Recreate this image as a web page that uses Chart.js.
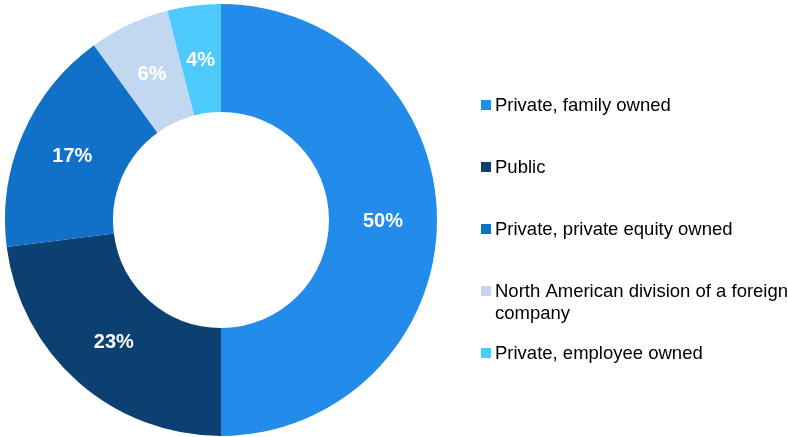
<!DOCTYPE html>
<html>
<head>
<meta charset="utf-8">
<script src="https://cdn.jsdelivr.net/npm/chart.js@4"></script>
<style>
  html, body { margin: 0; padding: 0; background: #fff; overflow: hidden; }
  #wrap { width: 788px; height: 437px; position: relative; }
</style>
</head>
<body>
<div id="wrap"><canvas id="owner"></canvas></div>
<script>
const categories = [
  "Private, family owned",
  "Public",
  "Private, private equity owned",
  "North American division of a foreign company",
  "Private, employee owned"
];
const shares = [50, 23, 17, 6, 4];
const sliceColors = ["#238bea", "#0b4070", "#1170c8", "#c2d8f0", "#4ec9fb"];

// white percentage text in the middle of each ring segment
const sliceLabels = {
  id: "sliceLabels",
  afterDatasetsDraw(chart) {
    const ctx = chart.ctx;
    const meta = chart.getDatasetMeta(0);
    ctx.save();
    ctx.font = "bold 20px 'Liberation Sans', Arial, sans-serif";
    ctx.fillStyle = "#fff";
    ctx.textAlign = "center";
    ctx.textBaseline = "middle";
    meta.data.forEach((arc, i) => {
      const p = arc.tooltipPosition();
      ctx.fillText(shares[i] + "%", p.x, p.y + 1);
    });
    ctx.restore();
  }
};

// legend on the right, long names wrapped onto a second line
const sideLegend = {
  id: "sideLegend",
  afterDraw(chart) {
    const ctx = chart.ctx;
    const x0 = 481, y0 = 105, step = 62, maxW = 320, lineH = 22;
    ctx.save();
    ctx.font = "18.5px 'Liberation Sans', Arial, sans-serif";
    ctx.textBaseline = "middle";
    ctx.textAlign = "left";
    categories.forEach((name, i) => {
      const y = y0 + i * step;
      ctx.fillStyle = sliceColors[i];
      ctx.fillRect(x0, y - 5, 10, 10);
      ctx.fillStyle = "#000";
      let line = "", ly = y + 1;
      name.split(" ").forEach(w => {
        const test = line ? line + " " + w : w;
        if (line && ctx.measureText(test).width > maxW) {
          ctx.fillText(line, x0 + 14, ly);
          line = w;
          ly += lineH;
        } else {
          line = test;
        }
      });
      ctx.fillText(line, x0 + 14, ly);
    });
    ctx.restore();
  }
};

new Chart(document.getElementById("owner"), {
  type: "doughnut",
  plugins: [sliceLabels, sideLegend],
  data: {
    labels: categories,
    datasets: [{
      data: shares,
      backgroundColor: sliceColors,
      borderWidth: 0
    }]
  },
  options: {
    responsive: true,
    maintainAspectRatio: false,
    animation: false,
    cutout: "50%",
    layout: { padding: { top: 4, bottom: 1, left: 5, right: 351 } },
    plugins: {
      legend: { display: false },
      tooltip: { enabled: false }
    }
  }
});
</script>
</body>
</html>
